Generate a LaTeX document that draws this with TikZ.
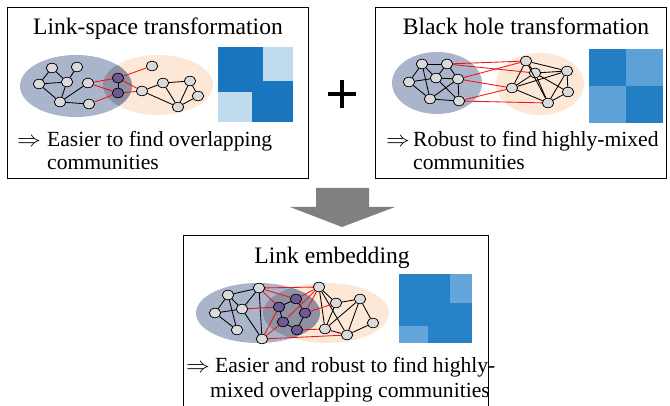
\documentclass[tikz,border=0pt]{standalone}
\usepackage{fontspec}
\setmainfont{Liberation Serif}
\usetikzlibrary{shapes.geometric}
\definecolor{ellblue}{RGB}{170,180,203}
\definecolor{ellpeach}{RGB}{253,231,214}
\definecolor{ellover}{RGB}{142,145,163}
\definecolor{ndgray}{RGB}{218,218,218}
\definecolor{ndpurple}{RGB}{112,88,152}
\definecolor{mdarkA}{RGB}{25,118,190}
\definecolor{mlightA}{RGB}{192,219,238}
\definecolor{mdarkB}{RGB}{36,126,196}
\definecolor{mlightB}{RGB}{92,161,216}
\definecolor{mdarkC}{RGB}{40,130,200}
\definecolor{mlightC}{RGB}{100,166,220}
\definecolor{arrgray}{RGB}{128,128,128}
\definecolor{redline}{RGB}{240,20,20}
\newcommand{\implarrow}{\scalebox{1.15}[1.05]{$\Rightarrow$}}
\tikzset{
  gn/.style={ellipse,draw=black,line width=0.7pt,fill=ndgray,minimum width=11.5pt,minimum height=9.5pt,inner sep=0pt},
  pn/.style={gn,fill=ndpurple},
  bl/.style={draw=black,line width=0.85pt},
  rl/.style={draw=redline,line width=0.85pt},
  frame/.style={draw=black,line width=0.9pt},
  ttl/.style={inner sep=0pt,anchor=base,font=\fontsize{23.6}{28}\selectfont},
  bdy/.style={inner sep=0pt,anchor=base west,font=\fontsize{21.6}{25}\selectfont},
}
\begin{document}
\begin{tikzpicture}[x=1pt,y=-1pt]
\useasboundingbox (0,0) rectangle (670,406);
\fill[white] (0,0) rectangle (670,406);
% frames
\draw[frame] (7,7) rectangle (308,178);
\draw[frame] (375,7) rectangle (666,178);
\draw[frame] (183,406) -- (183,235) -- (488,235) -- (488,406);
% plus
\draw[line width=3.6pt] (328,94) -- (356,94);
\draw[line width=3.6pt] (342,80) -- (342,108);
% arrow
\fill[arrgray] (316,188) -- (369,188) -- (369,207) -- (395,207) -- (342,227) -- (290,207) -- (316,207) -- cycle;

% ---------- Box 1 ----------
\node[ttl] (t1) at (158,35) {Link-space transformation};
\node[bdy] (r1) at (17,147) {\implarrow};
\node[bdy] (s1) at (47,147) {Easier to find overlapping};
\node[bdy] (s1b) at (47,170) {communities};
\fill[ellpeach] (158,85) ellipse (55pt and 30pt);
\fill[ellblue] (76,86) ellipse (56pt and 31pt);
\begin{scope}
\clip (76,86) ellipse (56pt and 31pt);
\fill[ellover] (158,85) ellipse (55pt and 30pt);
\end{scope}
\fill[mdarkA] (218,47) rectangle (293,122);
\fill[mlightA] (263,47) rectangle (293,81);
\fill[mlightA] (218,92) rectangle (252,122);
\node[gn] (A1) at (52,68) {};
\node[gn] (A2) at (77,67) {};
\node[gn] (A3) at (39,84) {};
\node[gn] (A4) at (67,82) {};
\node[gn] (A5) at (88,83) {};
\node[gn] (A6) at (60,102) {};
\node[gn] (A7) at (89,104) {};
\node[pn] (P1) at (118,78) {};
\node[pn] (P2) at (118,93) {};
\node[gn] (B1) at (152,66) {};
\node[gn] (B2) at (163,83) {};
\node[gn] (B3) at (190,81) {};
\node[gn] (B4) at (142,91) {};
\node[gn] (B5) at (198,96) {};
\node[gn] (B6) at (178,107) {};
\foreach \u/\v in {A1/A3,A1/A4,A3/A4,A2/A4,A4/A6,A3/A6,A5/A6,A6/A7,P1/P2,B4/B2,B2/B3,B4/B6,B2/B6,B3/B6,B3/B5,B5/B6}
  \draw[bl] (\u) -- (\v);
\foreach \u/\v in {A5/P1,A5/P2,A7/P2,P1/B1,P1/B4,P2/B4}
  \draw[rl] (\u) -- (\v);

% ---------- Box 2 ----------
\node[ttl] (t2) at (526,35) {Black hole transformation};
\node[bdy] (r2) at (386,147) {\implarrow};
\node[bdy] (s2) at (413,147) {Robust to find highly-mixed};
\node[bdy] (s2b) at (413,170) {communities};
\fill[ellblue] (437,83) ellipse (45pt and 31pt);
\fill[ellpeach] (540,84) ellipse (44pt and 31pt);
\fill[mdarkB] (589,49) rectangle (663,123);
\fill[mlightB] (626,49) rectangle (663,86);
\fill[mlightB] (589,86) rectangle (626,123);
\node[gn] (C1) at (422,64) {};
\node[gn] (C2) at (447,64) {};
\node[gn] (C3) at (409,82) {};
\node[gn] (C4) at (436,78) {};
\node[gn] (C5) at (458,79) {};
\node[gn] (C6) at (430,99) {};
\node[gn] (C7) at (459,101) {};
\node[gn] (D1) at (526,61) {};
\node[gn] (D2) at (535,73) {};
\node[gn] (D3) at (567,71) {};
\node[gn] (D4) at (512,88) {};
\node[gn] (D5) at (568,92) {};
\node[gn] (D6) at (548,103) {};
\foreach \u/\v in {C1/C2,C1/C3,C1/C4,C1/C6,C2/C4,C2/C5,C3/C4,C3/C6,C4/C5,C4/C7,C5/C6,C5/C7,C6/C7,
  D1/D2,D1/D4,D1/D3,D2/D3,D2/D4,D2/D6,D2/D5,D4/D3,D4/D6,D3/D5,D3/D6,D5/D6,D1/D6}
  \draw[bl] (\u) -- (\v);
\foreach \u/\v in {C2/D1,C2/D2,C5/D1,C5/D4,C7/D4,C7/D6}
  \draw[rl] (\u) -- (\v);

% ---------- Box 3 ----------
\node[ttl] (t3) at (332,264) {Link embedding};
\node[bdy] (r3) at (186,372) {\implarrow};
\node[bdy] (s3) at (215,372) {Easier and robust to find highly-};
\node[bdy] (s3b) at (210,397) {mixed overlapping communities};
\fill[ellpeach] (326,313) ellipse (63pt and 30pt);
\fill[ellblue] (258,313) ellipse (62pt and 30pt);
\begin{scope}
\clip (258,313) ellipse (62pt and 30pt);
\fill[ellover] (326,313) ellipse (63pt and 30pt);
\end{scope}
\fill[mdarkC] (399,274) rectangle (472,343);
\fill[mlightC] (450,274) rectangle (472,303);
\fill[mlightC] (399,326) rectangle (428,343);
\node[gn] (E1) at (228,295) {};
\node[gn] (E2) at (259,288) {};
\node[gn] (E3) at (215,313) {};
\node[gn] (E4) at (242,309) {};
\node[gn] (E5) at (237,330) {};
\node[gn] (E6) at (262,339) {};
\node[pn] (Q1) at (279,307) {};
\node[pn] (Q2) at (296,299) {};
\node[pn] (Q3) at (305,313) {};
\node[pn] (Q4) at (283,322) {};
\node[pn] (Q5) at (297,330) {};
\node[gn] (F1) at (319,287) {};
\node[gn] (F2) at (336,303) {};
\node[gn] (F3) at (360,299) {};
\node[gn] (F4) at (325,329) {};
\node[gn] (F5) at (347,335) {};
\node[gn] (F6) at (373,323) {};
\foreach \u/\v in {E1/E2,E1/E3,E1/E4,E1/E5,E3/E4,E2/E4,E2/E6,E4/E6,E3/E5,
  Q1/Q2,Q2/Q3,Q3/Q5,Q5/Q4,Q4/Q1,
  F1/F2,F1/F4,F1/F5,F2/F3,F2/F4,F3/F4,F3/F5,F3/F6,F5/F6,F4/F5}
  \draw[bl] (\u) -- (\v);
\foreach \u/\v in {E2/F1,E2/Q2,E2/Q1,E4/Q1,E6/Q1,E6/Q4,E6/F5,F1/Q2,F1/Q3,F1/Q4,Q3/F2,Q5/F4}
  \draw[rl] (\u) -- (\v);
\end{tikzpicture}
\end{document}
